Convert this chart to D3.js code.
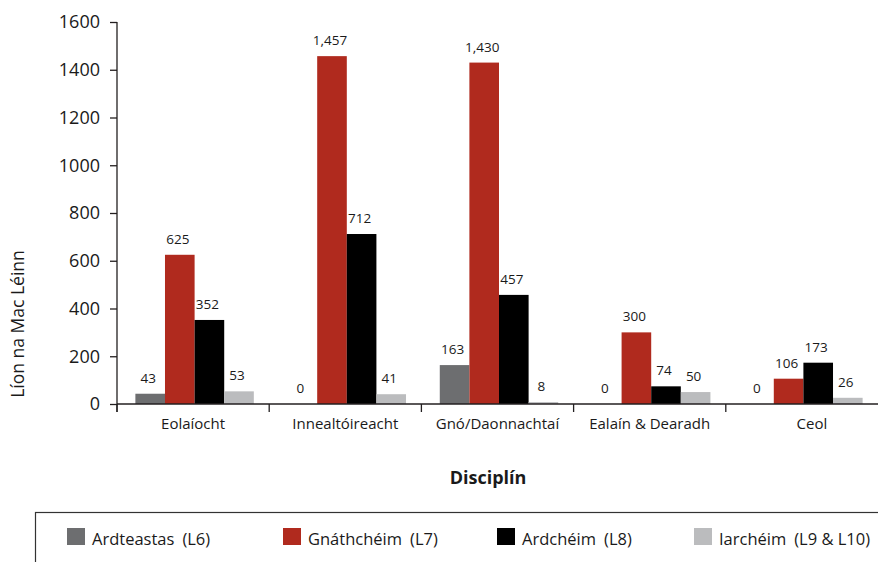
<!DOCTYPE html>
<html>
<head>
<meta charset="utf-8">
<script src="https://cdn.jsdelivr.net/npm/d3@7"></script>
<style>
  html, body { margin: 0; padding: 0; background: #fff; }
  svg { display: block; font-family: "Open Sans", "Noto Sans", sans-serif; }
</style>
</head>
<body>
<svg id="chart" width="878" height="562"></svg>
<script>
// ---- data ----
const categories = ["Eolaíocht", "Innealtóireacht", "Gnó/Daonnachtaí", "Ealaín & Dearadh", "Ceol"];
const seriesNames = ["Ardteastas (L6)", "Gnáthchéim (L7)", "Ardchéim (L8)", "Iarchéim (L9 & L10)"];
const ardteastas = [43, 0, 163, 0, 0];
const gnathcheim = [625, 1457, 1430, 300, 106];
const ardcheim = [352, 712, 457, 74, 173];
const iarcheim = [53, 41, 8, 50, 26];
const yTicks = [0, 200, 400, 600, 800, 1000, 1200, 1400, 1600];
const yTitle = "Líon na Mac Léinn";
const xTitle = "Disciplín";

// ---- styles ----
const colors = ["#6d6e70", "#b02a1e", "#000000", "#bbbcbe"];
const axisColor = "#231f20";
const textColor = "#1a1a1a";

const seriesValues = [ardteastas, gnathcheim, ardcheim, iarcheim];

const svg = d3.select("#chart");

const x0 = d3.scaleBand().domain(categories).range([117, 878]).paddingInner(0).paddingOuter(0);
const x1 = d3.scaleBand().domain(d3.range(seriesNames.length)).range([0, x0.bandwidth()]).paddingInner(0).paddingOuter(0.57);
const y = d3.scaleLinear().domain([0, 1600]).range([404, 22]);

// bars
categories.forEach((cat, ci) => {
  const g = svg.append("g").attr("transform", `translate(${x0(cat) + 1.5},0)`);
  seriesValues.forEach((vals, si) => {
    const v = vals[ci];
    g.append("rect")
      .attr("x", x1(si))
      .attr("y", y(v))
      .attr("width", x1.bandwidth())
      .attr("height", y(0) - y(v))
      .attr("fill", colors[si]);
    g.append("text")
      .attr("x", x1(si) + x1.bandwidth() / 2 - 2)
      .attr("y", y(v) - 11)
      .attr("text-anchor", "middle")
      .attr("font-size", "13.5px")
      .attr("fill", textColor)
      .text(d3.format(",")(v));
  });
});

// y axis
const yAxis = d3.axisLeft(y).tickValues(yTicks).tickSize(7).tickPadding(10).tickFormat(d3.format("d"));
const yg = svg.append("g").attr("transform", "translate(117,0)").call(yAxis);
yg.select(".domain").remove();
yg.append("line").attr("x1", 0).attr("x2", 0).attr("y1", 22).attr("y2", 412)
  .attr("stroke", axisColor).attr("stroke-width", 1.3);
yg.selectAll(".tick line").attr("stroke", axisColor).attr("stroke-width", 1.3);
yg.selectAll(".tick text").attr("font-size", "18px").attr("fill", textColor)
  .attr("font-family", "\"Open Sans\", sans-serif");

// x axis
const xg = svg.append("g");
xg.append("line").attr("x1", 117).attr("x2", 878).attr("y1", y(0)).attr("y2", y(0))
  .attr("stroke", axisColor).attr("stroke-width", 1.3);
categories.forEach((cat, ci) => {
  const bx = x0(cat);
  xg.append("line").attr("x1", bx).attr("x2", bx).attr("y1", y(0)).attr("y2", y(0) + 8)
    .attr("stroke", axisColor).attr("stroke-width", 1.3);
  xg.append("text")
    .attr("x", bx + x0.bandwidth() / 2 + (ci === categories.length - 1 ? 10 : 0))
    .attr("y", 429)
    .attr("text-anchor", "middle")
    .attr("font-size", "15px")
    .attr("fill", textColor)
    .text(cat);
});

// axis titles
svg.append("text")
  .attr("transform", "translate(24,324) rotate(-90)")
  .attr("text-anchor", "middle")
  .attr("font-size", "17.5px")
  .attr("fill", textColor)
  .text(yTitle);

svg.append("text")
  .attr("x", 488).attr("y", 484)
  .attr("text-anchor", "middle")
  .attr("font-size", "18px")
  .attr("font-weight", "bold")
  .attr("fill", textColor)
  .text(xTitle);

// legend
svg.append("rect")
  .attr("x", 35.5).attr("y", 512.5).attr("width", 900).attr("height", 100)
  .attr("fill", "none").attr("stroke", "#333").attr("stroke-width", 1.2);
const legendX = [67, 283, 497, 694];
seriesNames.forEach((name, i) => {
  svg.append("rect")
    .attr("x", legendX[i]).attr("y", 528).attr("width", 18).attr("height", 17)
    .attr("fill", colors[i]);
  const cut = name.indexOf(" (");
  const t = svg.append("text")
    .attr("x", legendX[i] + 25).attr("y", 545)
    .attr("font-size", "16.5px")
    .attr("fill", textColor);
  t.append("tspan").text(name.slice(0, cut));
  t.append("tspan").attr("dx", 8).text(name.slice(cut + 1));
});
</script>
</body>
</html>
